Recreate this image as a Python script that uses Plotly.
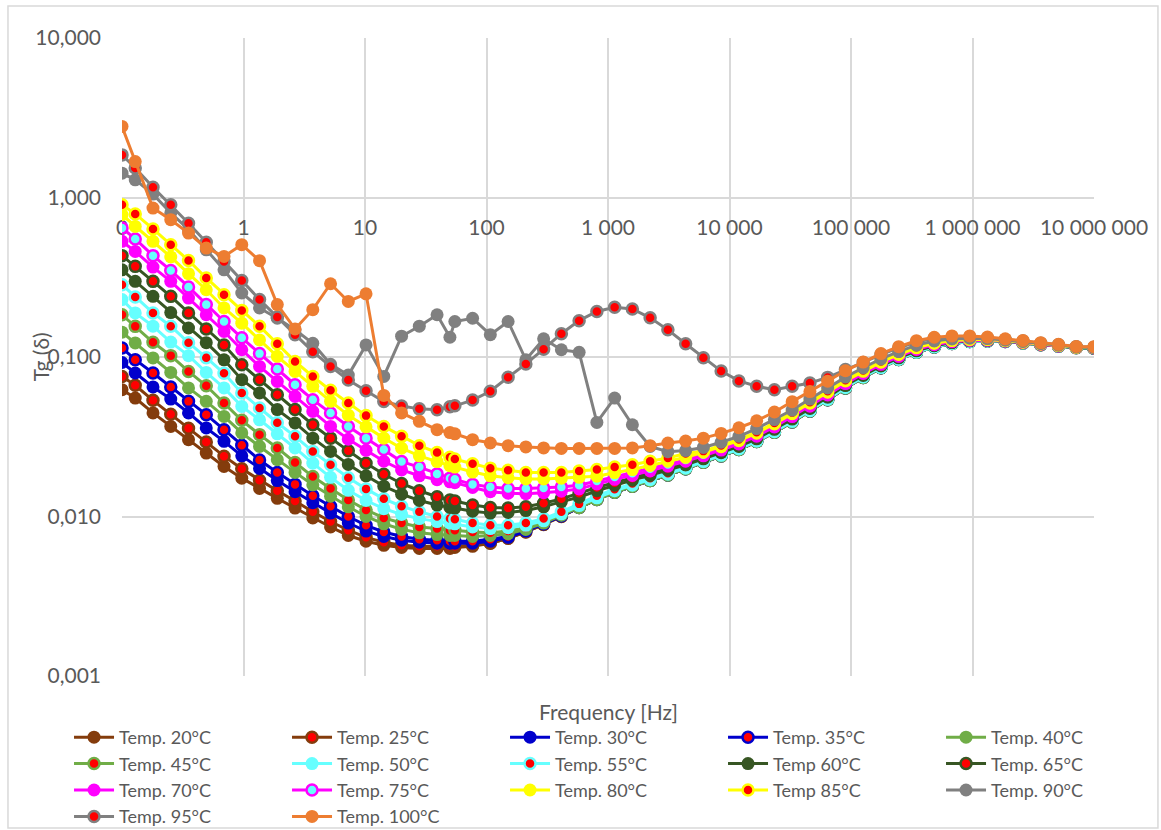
import plotly.graph_objects as go

# Measurement frequencies [Hz]
freq = [0.1, 0.1285, 0.1799, 0.2519, 0.3527, 0.4937, 0.6912, 0.9677, 1.355, 1.897,
        2.656, 3.718, 5.205, 7.287, 10.20, 14.28, 20.0, 27.99, 39.19, 50.0,
        54.87, 76.82, 107.5, 150.6, 210.8, 295.2, 413.2, 578.5, 809.9, 1134,
        1587, 2222, 3111, 4356, 6098, 8537, 11952, 16733, 23426, 32796,
        45915, 64281, 89993, 125990, 176386, 246940, 345716, 484003, 677604, 948645,
        1328103, 1859344, 2603082, 3644314, 5102040, 7142857, 10000000]

# Loss tangent per temperature
tg_20 = [0.0624, 0.0553, 0.0446, 0.0367, 0.0303, 0.0250, 0.0206, 0.0174, 0.0150, 0.0130,
         0.0113, 0.0098, 0.0086, 0.0076, 0.0070, 0.0066, 0.0064, 0.0063, 0.0063, 0.0063,
         0.0064, 0.0065, 0.0068, 0.0073, 0.0080, 0.0089, 0.0100, 0.0114, 0.0128, 0.0142,
         0.0155, 0.0168, 0.0182, 0.0199, 0.0219, 0.0240, 0.0263, 0.0295, 0.0338, 0.0392,
         0.0458, 0.0540, 0.0640, 0.0745, 0.0855, 0.0965, 0.1070, 0.1155, 0.1215, 0.1250,
         0.1260, 0.1250, 0.1225, 0.1195, 0.1170, 0.1145, 0.1135]
tg_25 = [0.0755, 0.0665, 0.0535, 0.0437, 0.0358, 0.0293, 0.0239, 0.0199, 0.0169, 0.0145,
         0.0125, 0.0107, 0.0093, 0.0082, 0.0074, 0.0069, 0.0066, 0.0065, 0.0065, 0.0065,
         0.0065, 0.0066, 0.0068, 0.0073, 0.0080, 0.0089, 0.0100, 0.0114, 0.0128, 0.0142,
         0.0155, 0.0168, 0.0182, 0.0199, 0.0219, 0.0240, 0.0263, 0.0295, 0.0338, 0.0392,
         0.0458, 0.0540, 0.0640, 0.0745, 0.0855, 0.0965, 0.1070, 0.1155, 0.1215, 0.1250,
         0.1260, 0.1250, 0.1225, 0.1195, 0.1170, 0.1145, 0.1135]
tg_30 = [0.0924, 0.0794, 0.0649, 0.0545, 0.0446, 0.0359, 0.0296, 0.0240, 0.0200, 0.0168,
         0.0143, 0.0122, 0.0105, 0.0091, 0.0081, 0.0075, 0.0071, 0.0069, 0.0068, 0.0068,
         0.0068, 0.0068, 0.0070, 0.0074, 0.0081, 0.0090, 0.0101, 0.0114, 0.0128, 0.0142,
         0.0155, 0.0168, 0.0182, 0.0199, 0.0219, 0.0240, 0.0263, 0.0295, 0.0338, 0.0392,
         0.0458, 0.0540, 0.0640, 0.0745, 0.0855, 0.0965, 0.1070, 0.1155, 0.1215, 0.1250,
         0.1260, 0.1250, 0.1225, 0.1195, 0.1170, 0.1145, 0.1135]
tg_35 = [0.114, 0.0962, 0.0794, 0.0649, 0.0527, 0.0435, 0.0350, 0.0280, 0.0226, 0.0189,
         0.0159, 0.0135, 0.0116, 0.0100, 0.0088, 0.0080, 0.0075, 0.0072, 0.0071, 0.0070,
         0.0070, 0.0070, 0.0072, 0.0075, 0.0082, 0.0090, 0.0101, 0.0114, 0.0128, 0.0142,
         0.0155, 0.0168, 0.0182, 0.0199, 0.0219, 0.0240, 0.0263, 0.0295, 0.0338, 0.0392,
         0.0458, 0.0540, 0.0640, 0.0745, 0.0855, 0.0965, 0.1070, 0.1155, 0.1215, 0.1250,
         0.1260, 0.1250, 0.1225, 0.1195, 0.1170, 0.1145, 0.1135]
tg_40 = [0.143, 0.1226, 0.0987, 0.0800, 0.0640, 0.0527, 0.0424, 0.0334, 0.0275, 0.0227,
         0.0189, 0.0158, 0.0134, 0.0115, 0.0100, 0.0090, 0.0083, 0.0079, 0.0077, 0.0076,
         0.0076, 0.0075, 0.0076, 0.0078, 0.0083, 0.0091, 0.0102, 0.0114, 0.0128, 0.0142,
         0.0155, 0.0168, 0.0182, 0.0199, 0.0219, 0.0240, 0.0263, 0.0295, 0.0338, 0.0392,
         0.0458, 0.0540, 0.0640, 0.0745, 0.0855, 0.0965, 0.1070, 0.1155, 0.1215, 0.1250,
         0.1260, 0.1250, 0.1225, 0.1195, 0.1170, 0.1145, 0.1135]
tg_45 = [0.184, 0.1556, 0.1236, 0.1020, 0.0812, 0.0660, 0.0515, 0.0401, 0.0326, 0.0269,
         0.0218, 0.0178, 0.0150, 0.0127, 0.0110, 0.0098, 0.0091, 0.0086, 0.0084, 0.0082,
         0.0082, 0.0080, 0.0079, 0.0081, 0.0085, 0.0092, 0.0103, 0.0114, 0.0128, 0.0142,
         0.0155, 0.0168, 0.0182, 0.0199, 0.0219, 0.0240, 0.0263, 0.0295, 0.0338, 0.0392,
         0.0458, 0.0540, 0.0640, 0.0745, 0.0855, 0.0965, 0.1070, 0.1155, 0.1215, 0.1250,
         0.1260, 0.1250, 0.1225, 0.1195, 0.1170, 0.1145, 0.1135]
tg_50 = [0.229, 0.189, 0.156, 0.124, 0.102, 0.080, 0.064, 0.049, 0.0404, 0.0330,
         0.0269, 0.0216, 0.0176, 0.0146, 0.0126, 0.0112, 0.0103, 0.0097, 0.0093, 0.0091,
         0.0090, 0.0086, 0.0084, 0.0085, 0.0088, 0.0094, 0.0104, 0.0117, 0.0131, 0.0145,
         0.0157, 0.0170, 0.0184, 0.0201, 0.0221, 0.0242, 0.0265, 0.0297, 0.0340, 0.0395,
         0.0461, 0.0543, 0.0644, 0.0749, 0.0859, 0.0969, 0.1074, 0.1159, 0.1218, 0.1252,
         0.1262, 0.1251, 0.1226, 0.1196, 0.1171, 0.1145, 0.1136]
tg_55 = [0.284, 0.238, 0.189, 0.156, 0.123, 0.099, 0.079, 0.0595, 0.0479, 0.0387,
         0.0318, 0.0256, 0.0211, 0.0175, 0.0149, 0.0129, 0.0116, 0.0107, 0.0100, 0.0097,
         0.0096, 0.0091, 0.0088, 0.0088, 0.0091, 0.0097, 0.0107, 0.0120, 0.0135, 0.0148,
         0.0161, 0.0174, 0.0187, 0.0204, 0.0224, 0.0245, 0.0268, 0.0300, 0.0344, 0.0399,
         0.0465, 0.0548, 0.0649, 0.0754, 0.0865, 0.0975, 0.1080, 0.1164, 0.1222, 0.1255,
         0.1264, 0.1253, 0.1227, 0.1197, 0.1172, 0.1146, 0.1136]
tg_60 = [0.352, 0.298, 0.240, 0.190, 0.152, 0.123, 0.096, 0.0721, 0.0595, 0.0468,
         0.0386, 0.0310, 0.0256, 0.0212, 0.0180, 0.0155, 0.0138, 0.0126, 0.0118, 0.0114,
         0.0113, 0.0108, 0.0105, 0.0106, 0.0109, 0.0115, 0.0124, 0.0132, 0.0145, 0.0157,
         0.0169, 0.0181, 0.0195, 0.0211, 0.0230, 0.0251, 0.0275, 0.0307, 0.0352, 0.0408,
         0.0476, 0.0560, 0.0662, 0.0767, 0.0878, 0.0988, 0.1093, 0.1176, 0.1232, 0.1263,
         0.1269, 0.1256, 0.1230, 0.1199, 0.1174, 0.1147, 0.1138]
tg_65 = [0.432, 0.370, 0.298, 0.240, 0.189, 0.150, 0.119, 0.0895, 0.0721, 0.0580,
         0.0468, 0.0376, 0.0310, 0.0258, 0.0216, 0.0184, 0.0161, 0.0145, 0.0133, 0.0127,
         0.0125, 0.0118, 0.0114, 0.0113, 0.0115, 0.0121, 0.0129, 0.0140, 0.0152, 0.0163,
         0.0174, 0.0187, 0.0200, 0.0216, 0.0234, 0.0256, 0.0279, 0.0313, 0.0357, 0.0415,
         0.0483, 0.0568, 0.0671, 0.0776, 0.0888, 0.0998, 0.1103, 0.1185, 0.1239, 0.1268,
         0.1273, 0.1259, 0.1233, 0.1201, 0.1175, 0.1148, 0.1139]
tg_70 = [0.531, 0.459, 0.366, 0.298, 0.234, 0.184, 0.1445, 0.111, 0.0873, 0.0703,
         0.0566, 0.0456, 0.0367, 0.0305, 0.0260, 0.0222, 0.0196, 0.0180, 0.0170, 0.0165,
         0.0163, 0.0152, 0.0143, 0.0140, 0.0139, 0.0141, 0.0144, 0.0149, 0.0160, 0.0171,
         0.0181, 0.0193, 0.0207, 0.0222, 0.0240, 0.0261, 0.0285, 0.0319, 0.0364, 0.0423,
         0.0492, 0.0578, 0.0681, 0.0788, 0.0900, 0.1010, 0.1115, 0.1195, 0.1247, 0.1274,
         0.1277, 0.1262, 0.1235, 0.1203, 0.1177, 0.1150, 0.1141]
tg_75 = [0.644, 0.550, 0.432, 0.349, 0.275, 0.213, 0.167, 0.132, 0.105, 0.0841,
         0.0670, 0.0540, 0.0446, 0.0367, 0.0310, 0.0263, 0.0221, 0.0204, 0.0185, 0.0174,
         0.0171, 0.0159, 0.0153, 0.0150, 0.0150, 0.0151, 0.0153, 0.0157, 0.0167, 0.0177,
         0.0187, 0.0199, 0.0212, 0.0226, 0.0244, 0.0266, 0.0290, 0.0324, 0.0370, 0.0429,
         0.0500, 0.0586, 0.0690, 0.0797, 0.0910, 0.1020, 0.1125, 0.1204, 0.1254, 0.1279,
         0.1281, 0.1264, 0.1238, 0.1205, 0.1178, 0.1151, 0.1142]
tg_80 = [0.780, 0.659, 0.531, 0.424, 0.333, 0.264, 0.203, 0.163, 0.128, 0.101,
         0.0812, 0.0655, 0.0527, 0.0432, 0.0365, 0.0310, 0.0268, 0.0240, 0.0221, 0.0208,
         0.0204, 0.0190, 0.0180, 0.0175, 0.0172, 0.0172, 0.0174, 0.0176, 0.0179, 0.0188,
         0.0197, 0.0209, 0.0222, 0.0235, 0.0253, 0.0274, 0.0299, 0.0333, 0.0380, 0.0441,
         0.0513, 0.0601, 0.0707, 0.0813, 0.0927, 0.1037, 0.1142, 0.1220, 0.1267, 0.1289,
         0.1288, 0.1269, 0.1242, 0.1208, 0.1181, 0.1152, 0.1144]
tg_85 = [0.901, 0.789, 0.635, 0.506, 0.403, 0.313, 0.246, 0.196, 0.156, 0.121,
         0.0938, 0.0755, 0.0618, 0.0515, 0.0429, 0.0367, 0.0318, 0.0278, 0.0252, 0.0235,
         0.0229, 0.0214, 0.0201, 0.0195, 0.0189, 0.0189, 0.0189, 0.0193, 0.0197, 0.0204,
         0.0211, 0.0222, 0.0233, 0.0248, 0.0257, 0.0279, 0.0304, 0.0338, 0.0386, 0.0448,
         0.0521, 0.0609, 0.0716, 0.0823, 0.0937, 0.1047, 0.1152, 0.1229, 0.1274, 0.1294,
         0.1292, 0.1271, 0.1244, 0.1210, 0.1183, 0.1153, 0.1146]
tg_90 = [1.42, 1.29, 1.05, 0.80, 0.63, 0.47, 0.352, 0.252, 0.203, 0.175,
         0.148, 0.122, 0.090, 0.077, 0.119, 0.0755, 0.135, 0.156, 0.184, 0.133,
         0.167, 0.175, 0.138, 0.167, 0.096, 0.130, 0.111, 0.107, 0.0389, 0.0553,
         0.0376, 0.0275, 0.0255, 0.0259, 0.0271, 0.0292, 0.0318, 0.0356, 0.0405, 0.0465,
         0.0545, 0.0639, 0.0748, 0.0856, 0.0972, 0.1082, 0.1187, 0.1260, 0.1299, 0.1313,
         0.1305, 0.1280, 0.1252, 0.1216, 0.1188, 0.1157, 0.1150]
tg_95 = [1.85, 1.53, 1.16, 0.90, 0.69, 0.524, 0.397, 0.302, 0.229, 0.178,
         0.138, 0.108, 0.0873, 0.0718, 0.0615, 0.0526, 0.0493, 0.0473, 0.0467, 0.0487,
         0.0494, 0.0537, 0.0610, 0.0747, 0.0905, 0.112, 0.140, 0.169, 0.193, 0.205,
         0.200, 0.176, 0.148, 0.121, 0.099, 0.0816, 0.0708, 0.0655, 0.0623, 0.0655,
         0.0687, 0.0745, 0.0835, 0.0925, 0.1035, 0.1140, 0.1240, 0.1310, 0.1335, 0.1335,
         0.1315, 0.1285, 0.1258, 0.1220, 0.1192, 0.1160, 0.1153]
tg_100 = [2.79, 1.68, 0.859, 0.726, 0.598, 0.482, 0.427, 0.506, 0.402, 0.213,
          0.150, 0.198, 0.288, 0.223, 0.249, 0.0574, 0.0446, 0.0395, 0.0350, 0.0336,
          0.0330, 0.0303, 0.0289, 0.0278, 0.0273, 0.0269, 0.0267, 0.0267, 0.0267, 0.0267,
          0.0269, 0.0278, 0.0289, 0.0297, 0.0310, 0.0332, 0.0360, 0.0398, 0.0452, 0.0525,
          0.0607, 0.0705, 0.0820, 0.0930, 0.1050, 0.1160, 0.1265, 0.1330, 0.1355, 0.1355,
          0.1335, 0.1300, 0.1270, 0.1230, 0.1200, 0.1165, 0.1160]

names = ["Temp. 20°C", "Temp. 25°C", "Temp. 30°C", "Temp. 35°C", "Temp. 40°C",
         "Temp. 45°C", "Temp. 50°C", "Temp. 55°C", "Temp 60°C", "Temp. 65°C",
         "Temp. 70°C", "Temp. 75°C", "Temp. 80°C", "Temp 85°C", "Temp. 90°C",
         "Temp. 95°C", "Temp. 100°C"]
series = [tg_20, tg_25, tg_30, tg_35, tg_40, tg_45, tg_50, tg_55, tg_60, tg_65,
          tg_70, tg_75, tg_80, tg_85, tg_90, tg_95, tg_100]

x_tick_vals = [0.1, 1, 10, 100, 1000, 10000, 100000, 1000000, 10000000]
x_tick_text = ["0", "1", "10", "100", "1 000", "10 000", "100 000", "1 000 000", "10 000 000"]
y_tick_vals = [0.001, 0.01, 0.1, 1, 10]
y_tick_text = ["0,001", "0,010", "0,100", "1,000", "10,000"]

BROWN = "#843C0C"
BLUE = "#0000CC"
GREEN = "#70AD47"
CYAN = "#66FFFF"
DKGREEN = "#375623"
MAGENTA = "#FF00FF"
YELLOW = "#FFFF00"
GRAY = "#808080"
ORANGE = "#ED7D31"
RED = "#FF0000"

# (line colour, marker fill, marker border) per series
styles = [
    (BROWN, BROWN, BROWN), (BROWN, RED, BROWN),
    (BLUE, BLUE, BLUE), (BLUE, RED, BLUE),
    (GREEN, GREEN, GREEN), (GREEN, RED, GREEN),
    (CYAN, CYAN, CYAN), (CYAN, RED, CYAN),
    (DKGREEN, DKGREEN, DKGREEN), (DKGREEN, RED, DKGREEN),
    (MAGENTA, MAGENTA, MAGENTA), (MAGENTA, CYAN, MAGENTA),
    (YELLOW, YELLOW, YELLOW), (YELLOW, RED, YELLOW),
    (GRAY, GRAY, GRAY), (GRAY, RED, GRAY),
    (ORANGE, ORANGE, ORANGE),
]

FONT = "Lato, 'Open Sans', sans-serif"
TXT = "#595959"

fig = go.Figure()
for name, vals, (lc, fc, bc) in zip(names, series, styles):
    two_tone = fc != lc
    fig.add_trace(go.Scatter(
        x=freq, y=vals, name=name, mode="lines+markers",
        line=dict(color=lc, width=3),
        marker=dict(symbol="circle", size=11 if two_tone else 13, color=fc,
                    line=dict(color=bc, width=2.5 if two_tone else 0)),
    ))

fig.update_layout(
    width=1161, height=830,
    margin=dict(l=122, r=67, t=38, b=154, autoexpand=False),
    paper_bgcolor="white", plot_bgcolor="white",
    font=dict(family=FONT, size=20, color=TXT),
    showlegend=True,
    legend=dict(
        orientation="h", x=-0.0545, y=-0.0674, xanchor="left", yanchor="top",
        entrywidth=163, entrywidthmode="pixels",
        font=dict(family=FONT, size=18, color=TXT),
        itemwidth=40, tracegroupgap=0, bgcolor="rgba(0,0,0,0)",
    ),
    xaxis=dict(
        type="log", range=[-1, 7], tickmode="array",
        tickvals=x_tick_vals, ticktext=x_tick_text,
        showgrid=True, gridcolor="#D9D9D9", gridwidth=1.5,
        zeroline=False, showline=False, ticks="",
        anchor="free", position=0.75, layer="below traces",
        ticklabelstandoff=15,
        tickfont=dict(family=FONT, size=21, color=TXT),
    ),
    yaxis=dict(
        type="log", range=[-3, 1], tickmode="array",
        tickvals=y_tick_vals, ticktext=y_tick_text,
        showgrid=True, gridcolor="#D9D9D9", gridwidth=1.5,
        zeroline=False, showline=False, ticks="",
        ticklabelstandoff=20,
        tickfont=dict(family=FONT, size=21, color=TXT),
    ),
    annotations=[
        dict(text="Frequency [Hz]", xref="paper", yref="paper", x=0.5, y=-0.056,
             xanchor="center", yanchor="middle", showarrow=False,
             font=dict(family=FONT, size=21, color=TXT)),
        dict(text="Tg (δ)", xref="paper", yref="paper", x=-0.084, y=0.5,
             xanchor="center", yanchor="middle", textangle=-90, showarrow=False,
             font=dict(family=FONT, size=21, color=TXT)),
    ],
    shapes=[
        dict(type="rect", xref="paper", yref="paper",
             x0=-0.1173, x1=1.0658, y0=-0.2382, y1=1.0502,
             line=dict(color="#D9D9D9", width=1.5), fillcolor="rgba(0,0,0,0)",
             layer="below"),
    ],
)

fig.write_html("out.html")
